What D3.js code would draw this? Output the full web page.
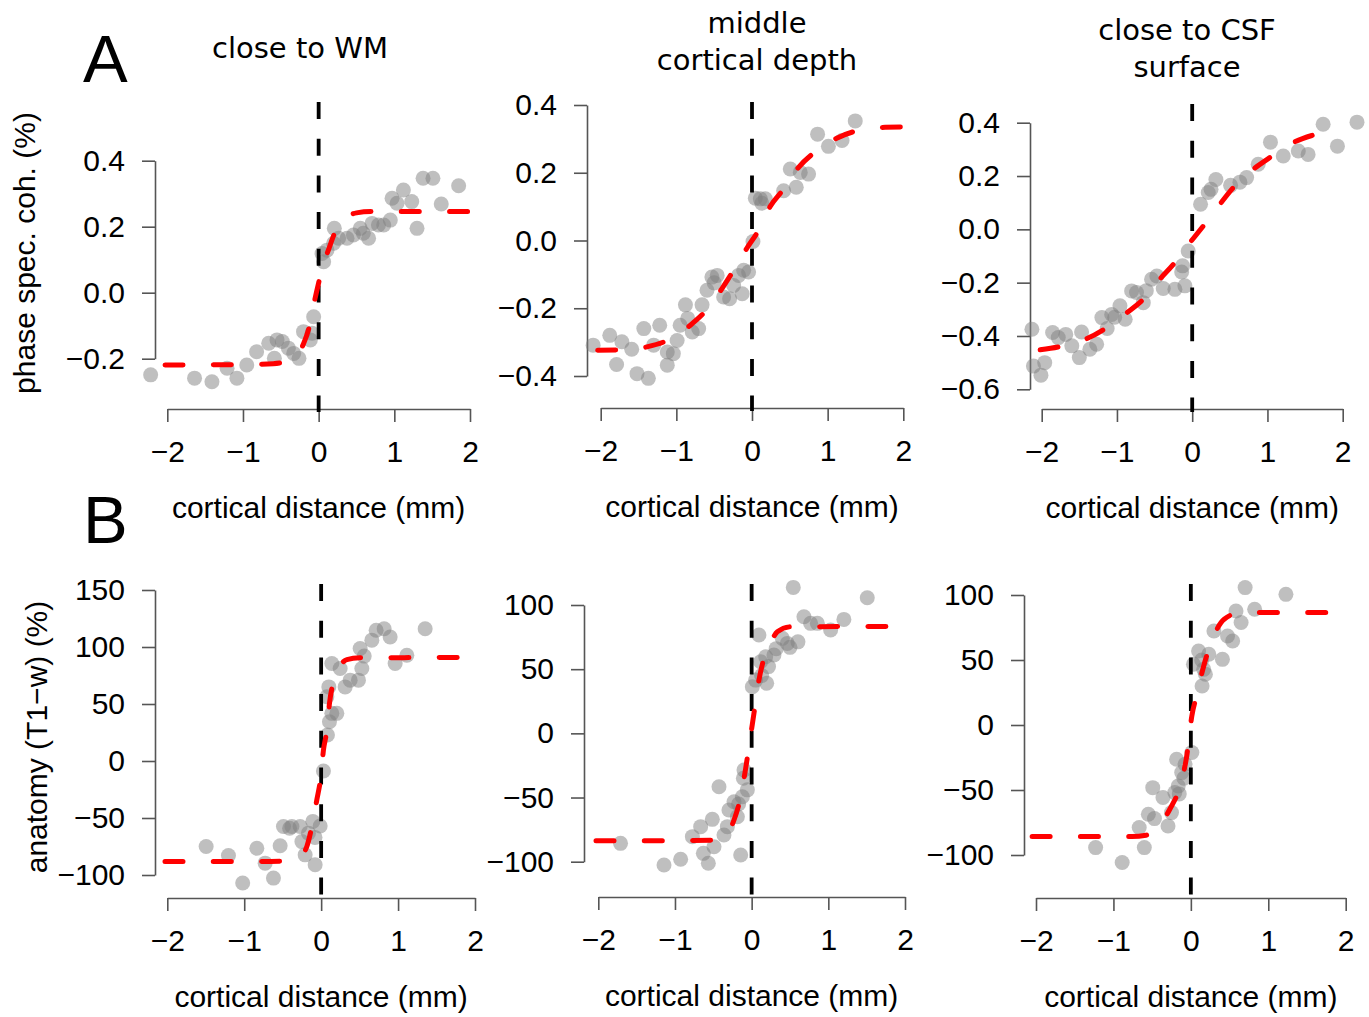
<!DOCTYPE html>
<html>
<head>
<meta charset="utf-8">
<script src="https://cdn.jsdelivr.net/npm/d3@7"></script>
<style>
  body { margin: 0; background: #fff; }
  svg { display: block; }
</style>
</head>
<body>
<script>
// ---- data ----
var distTicks = [-2, -1, 0, 1, 2];
var cohTicksWM = [-0.2, 0, 0.2, 0.4];
var cohTicksMid = [-0.4, -0.2, 0, 0.2, 0.4];
var cohTicksCSF = [-0.6, -0.4, -0.2, 0, 0.2, 0.4];
var anatTicksWM = [-100, -50, 0, 50, 100, 150];
var anatTicksMid = [-100, -50, 0, 50, 100];
var anatTicksCSF = [-100, -50, 0, 50, 100];

var depthTitles = [["close to WM"], ["middle", "cortical depth"], ["close to CSF", "surface"]];
var xLabel = "cortical distance (mm)";
var cohLabel = "phase spec. coh. (%)";
var anatLabel = "anatomy (T1\u2212w) (%)";

// A: phase spectral coherence, [distance, value]
var cohPointsWM = [[-2.22,-0.249],[-1.64,-0.259],[-1.41,-0.27],[-1.21,-0.229],[-1.08,-0.259],[-0.95,-0.219],
  [-0.82,-0.179],[-0.66,-0.153],[-0.55,-0.143],[-0.48,-0.148],[-0.585,-0.199],[-0.40,-0.168],[-0.26,-0.199],
  [-0.33,-0.184],[-0.20,-0.118],[-0.11,-0.143],[-0.066,-0.073],[-0.087,-0.123],[0.045,0.119],[0.066,0.094],
  [0.11,0.129],[0.207,0.195],[0.198,0.15],[0.264,0.165],[0.375,0.165],[0.46,0.175],[0.55,0.195],[0.59,0.18],
  [0.66,0.165],[0.705,0.21],[0.79,0.205],[0.86,0.205],[0.947,0.22],[0.97,0.286],[1.036,0.271],[1.12,0.311],
  [1.23,0.276],[1.30,0.195],[1.38,0.347],[1.51,0.347],[1.62,0.269],[1.85,0.324]];
var cohFitWM = [[-2.03,-0.219],[-1.0,-0.218],[-0.6,-0.215],[-0.4,-0.206],[-0.28,-0.186],[-0.2,-0.155],
  [-0.12,-0.1],[-0.05,-0.02],[0,0.03],[0.06,0.085],[0.13,0.13],[0.22,0.185],[0.35,0.225],[0.5,0.242],
  [0.7,0.246],[2.03,0.246]];

var cohPointsMid = [[-2.10,-0.309],[-1.88,-0.28],[-1.72,-0.299],[-1.79,-0.366],[-1.59,-0.321],[-1.52,-0.393],
  [-1.37,-0.407],[-1.43,-0.26],[-1.22,-0.25],[-1.30,-0.309],[-1.12,-0.329],[-1.04,-0.334],[-1.12,-0.368],
  [-0.99,-0.295],[-0.95,-0.25],[-0.88,-0.19],[-0.85,-0.23],[-0.79,-0.27],[-0.705,-0.26],[-0.66,-0.19],
  [-0.595,-0.147],[-0.53,-0.108],[-0.46,-0.103],[-0.5,-0.125],[-0.375,-0.167],[-0.296,-0.172],[-0.177,-0.103],
  [-0.11,-0.088],[-0.045,-0.093],[-0.13,-0.157],[-0.243,-0.133],[0.013,-0.003],[0.044,0.125],[0.11,0.123],
  [0.176,0.123],[0.13,0.11],[0.418,0.147],[0.585,0.157],[0.506,0.211],[0.638,0.201],[0.748,0.196],
  [0.867,0.314],[1.01,0.278],[1.19,0.295],[1.365,0.353]];
var cohFitMid = [[-2.04,-0.324],[-1.74,-0.323],[-1.39,-0.314],[-1.12,-0.295],[-0.815,-0.25],[-0.617,-0.209],
  [-0.397,-0.142],[-0.243,-0.088],[-0.066,-0.022],[0.087,0.03],[0.242,0.101],[0.418,0.152],[0.616,0.216],
  [0.837,0.262],[1.12,0.302],[1.39,0.324],[1.76,0.334],[2.04,0.335]];

var cohPointsCSF = [[-2.13,-0.375],[-2.11,-0.513],[-2.01,-0.547],[-1.96,-0.5],[-1.855,-0.387],[-1.78,-0.406],
  [-1.68,-0.394],[-1.60,-0.437],[-1.50,-0.481],[-1.47,-0.385],[-1.36,-0.45],[-1.27,-0.431],[-1.20,-0.331],
  [-1.13,-0.372],[-1.07,-0.319],[-1.03,-0.33],[-0.96,-0.287],[-0.89,-0.337],[-0.805,-0.231],[-0.74,-0.237],
  [-0.65,-0.275],[-0.61,-0.23],[-0.54,-0.187],[-0.47,-0.175],[-0.385,-0.222],[-0.23,-0.225],[-0.128,-0.137],
  [-0.14,-0.16],[-0.097,-0.212],[-0.053,-0.081],[0.111,0.094],[0.213,0.138],[0.315,0.187],[0.25,0.15],
  [0.51,0.165],[0.634,0.177],[0.723,0.194],[0.877,0.244],[1.04,0.327],[1.21,0.275],[1.41,0.294],
  [1.54,0.281],[1.74,0.394],[1.93,0.312],[2.19,0.402]];
var cohFitCSF = [[-2.02,-0.452],[-1.76,-0.44],[-1.40,-0.41],[-1.14,-0.369],[-0.87,-0.313],[-0.65,-0.262],
  [-0.43,-0.187],[-0.25,-0.131],[-0.03,-0.05],[0.146,0.012],[0.368,0.094],[0.545,0.156],[0.81,0.225],
  [1.03,0.269],[1.34,0.325],[1.59,0.352],[1.985,0.375]];

// B: anatomy (T1-w), [distance, value]
var anatPointsWM = [[-1.495,-75],[-1.205,-83],[-1.02,-107],[-0.836,-76.5],[-0.728,-89.6],[-0.62,-102.7],
  [-0.533,-74.4],[-0.49,-57.5],[-0.41,-59],[-0.38,-57.5],[-0.273,-57.5],[-0.25,-70.7],[-0.208,-82.3],
  [-0.165,-63.3],[-0.108,-53],[-0.078,-91],[-0.013,-57],[-0.08,-67],[0.03,-8.8],[0.082,22.8],[0.108,34.4],
  [0.139,41.8],[0.204,41.8],[0.074,56.3],[0.1,65],[0.139,85.5],[0.247,81.2],[0.312,65],[0.377,70.9],
  [0.485,70.9],[0.529,81.2],[0.507,98.7],[0.56,92],[0.659,106],[0.715,114.7],[0.819,116],[0.897,108.8],
  [0.962,85.5],[1.114,92.8],[1.352,116]];
var anatFitWM = [[-2.03,-88.2],[-0.9,-88.2],[-0.4,-87.5],[-0.26,-83],[-0.186,-75],[-0.121,-57.5],
  [-0.056,-34],[-0.004,-13.7],[0.03,9.6],[0.074,27],[0.108,50.5],[0.16,69.4],[0.22,80],[0.334,89],
  [0.5,90.5],[2.03,90.8]];

var anatPointsMid = [[-1.71,-85.7],[-1.143,-102.6],[-0.926,-98.1],[-0.773,-80.5],[-0.665,-72.7],[-0.63,-93.5],
  [-0.565,-101.2],[-0.513,-67],[-0.491,-88.3],[-0.426,-41.6],[-0.361,-79.2],[-0.317,-72.7],[-0.296,-59.7],
  [-0.23,-53.3],[-0.186,-65],[-0.17,-55],[-0.121,-49.4],[-0.143,-94.8],[-0.1,-28.6],[-0.108,-35],
  [-0.056,-44],[0.009,36.3],[0.052,41.5],[0.095,76.6],[0.117,55.8],[0.183,59.7],[0.196,39],[0.13,45],
  [0.22,52],[0.291,61],[0.32,66],[0.4,74],[0.465,70.1],[0.5,67],[0.604,71.3],[0.543,113.7],[0.682,90.8],
  [0.769,85.7],[0.857,85.7],[1.03,80.5],[1.203,88.8],[1.508,105.6]];
var anatFitMid = [[-2.03,-83.6],[-1.0,-83.6],[-0.47,-83.2],[-0.317,-77.9],[-0.23,-67.5],[-0.143,-49.4],
  [-0.078,-27.3],[-0.022,-5.2],[0.03,15.6],[0.095,41.5],[0.16,58.4],[0.25,71],[0.335,79.1],[0.508,83],
  [2.03,83.3]];

var anatPointsCSF = [[-1.23,-94.3],[-0.887,-105.8],[-0.601,-94.3],[-0.667,-78.9],[-0.549,-68.7],[-0.492,-48.2],
  [-0.47,-72],[-0.36,-55.8],[-0.295,-77.7],[-0.25,-67.4],[-0.207,-52],[-0.163,-46.9],[-0.15,-53],
  [-0.118,-36.6],[-0.184,-26.4],[-0.075,-30.2],[-0.09,-41],[0.013,-21.2],[0.034,46.7],[0.1,56.9],[0.14,50],
  [0.166,42.8],[0.188,39],[0.145,30],[0.232,54.4],[0.298,72.3],[0.408,50.5],[0.474,68.5],[0.54,64.6],
  [0.583,87.7],[0.649,78.8],[0.701,105.7],[0.824,89],[1.228,100.5]];
var anatFitCSF = [[-2.05,-85.8],[-0.76,-85.8],[-0.58,-84.8],[-0.447,-80],[-0.272,-64.8],[-0.14,-47],
  [-0.053,-23.8],[0.013,7],[0.079,23.6],[0.166,45.4],[0.254,62],[0.43,81.3],[0.649,86.5],[1.99,86.5]];

// ---- layout ----
var W = 1369, H = 1017;
var axisFont = "'Liberation Sans', Arial, sans-serif";
var titleFont = "'DejaVu Sans', Verdana, sans-serif";

var panels = [
  { pts: cohPointsWM,  fit: cohFitWM,  ticks: cohTicksWM,  fmt: ".1f", xr: [167.3, 470],  yr: [358.7, 160.7], ax: 155,  ay: 409, top: 102 },
  { pts: cohPointsMid, fit: cohFitMid, ticks: cohTicksMid, fmt: ".1f", xr: [600.7, 903.3], yr: [376, 105],   ax: 587,  ay: 408, top: 102 },
  { pts: cohPointsCSF, fit: cohFitCSF, ticks: cohTicksCSF, fmt: ".1f", xr: [1041.7, 1342.7], yr: [389.3, 122.7], ax: 1030, ay: 409, top: 104 },
  { pts: anatPointsWM,  fit: anatFitWM,  ticks: anatTicksWM,  fmt: "d", xr: [167.3, 475], yr: [875, 590],   ax: 155,  ay: 898, top: 584 },
  { pts: anatPointsMid, fit: anatFitMid, ticks: anatTicksMid, fmt: "d", xr: [598.3, 905], yr: [861.7, 605], ax: 584,  ay: 897, top: 584 },
  { pts: anatPointsCSF, fit: anatFitCSF, ticks: anatTicksCSF, fmt: "d", xr: [1036, 1345.7], yr: [855, 595], ax: 1024, ay: 898, top: 584 }
];

var titlePos = [{ x: 300, y: [58] }, { x: 757, y: [33, 70] }, { x: 1187, y: [40, 77] }];

var svg = d3.select("body").append("svg")
  .attr("width", W)
  .attr("height", H)
  .style("background", "#fff");

panels.forEach(function (p) {
  var x = d3.scaleLinear().domain([distTicks[0], distTicks[distTicks.length - 1]]).range(p.xr);
  var y = d3.scaleLinear().domain([p.ticks[0], p.ticks[p.ticks.length - 1]]).range(p.yr);
  var g = svg.append("g");

  // y axis
  var yAxis = g.append("g")
    .attr("transform", "translate(" + p.ax + ",0)")
    .call(d3.axisLeft(y).tickValues(p.ticks).tickFormat(d3.format(p.fmt))
      .tickSize(13).tickSizeOuter(0).tickPadding(17));
  // x axis
  var xAxis = g.append("g")
    .attr("transform", "translate(0," + p.ay + ")")
    .call(d3.axisBottom(x).tickValues(distTicks).tickFormat(d3.format("d"))
      .tickSize(13).tickSizeOuter(0).tickPadding(19));

  [yAxis, xAxis].forEach(function (a) {
    a.attr("font-size", null).attr("font-family", null);
    a.selectAll("path, line").attr("stroke", "#555").attr("stroke-width", 1.6);
    a.selectAll("text").attr("fill", "#000")
      .style("font-family", axisFont).style("font-size", "30px");
  });

  // axis title
  g.append("text")
    .attr("x", x(0))
    .attr("y", p.ay + 109)
    .attr("text-anchor", "middle")
    .style("font-family", axisFont)
    .style("font-size", "30px")
    .text(xLabel);

  // data points
  g.selectAll("circle")
    .data(p.pts)
    .enter()
    .append("circle")
    .attr("cx", function (d) { return x(d[0]); })
    .attr("cy", function (d) { return y(d[1]); })
    .attr("r", 7.5)
    .style("fill", "#808080")
    .style("fill-opacity", 0.5);

  // border at zero distance
  g.append("line")
    .attr("x1", x(0)).attr("x2", x(0))
    .attr("y1", p.top).attr("y2", p.ay + 3)
    .attr("stroke", "#000")
    .attr("stroke-width", 3.8)
    .attr("stroke-dasharray", "17,19.7");

  // sigmoid fit
  var line = d3.line()
    .x(function (d) { return x(d[0]); })
    .y(function (d) { return y(d[1]); })
    .curve(d3.curveMonotoneX);

  g.append("path")
    .datum(p.fit)
    .attr("d", line)
    .attr("fill", "none")
    .attr("stroke", "#ff0000")
    .attr("stroke-width", 5)
    .attr("stroke-linecap", "round")
    .attr("stroke-dasharray", "18,30.3");
});

// column titles
depthTitles.forEach(function (lines, i) {
  lines.forEach(function (t, j) {
    svg.append("text")
      .attr("x", titlePos[i].x)
      .attr("y", titlePos[i].y[j])
      .attr("text-anchor", "middle")
      .style("font-family", titleFont)
      .style("font-size", "29px")
      .text(t);
  });
});

// row y labels
svg.append("text")
  .attr("transform", "translate(35,253) rotate(-90)")
  .attr("text-anchor", "middle")
  .style("font-family", axisFont)
  .style("font-size", "30px")
  .text(cohLabel);

svg.append("text")
  .attr("transform", "translate(47,737) rotate(-90)")
  .attr("text-anchor", "middle")
  .style("font-family", axisFont)
  .style("font-size", "30px")
  .text(anatLabel);

// panel letters
svg.append("text").attr("x", 83).attr("y", 82)
  .style("font-family", axisFont).style("font-size", "67px").text("A");
svg.append("text").attr("x", 83).attr("y", 543)
  .style("font-family", axisFont).style("font-size", "67px").text("B");
</script>
</body>
</html>
